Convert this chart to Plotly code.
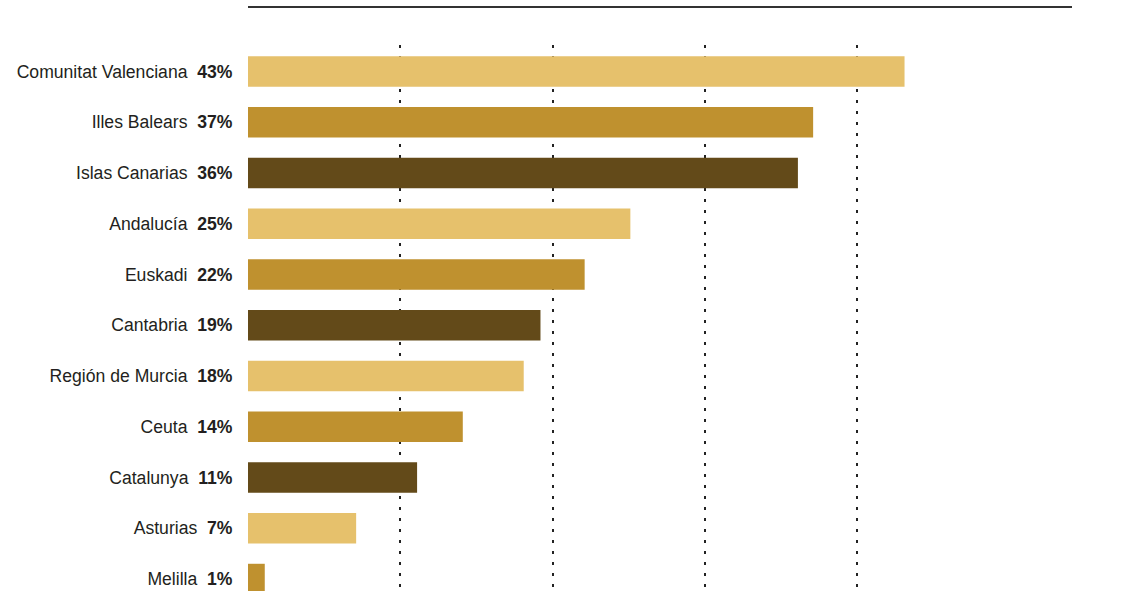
import plotly.graph_objects as go

regions = ["Comunitat Valenciana", "Illes Balears", "Islas Canarias", "Andalucía",
           "Euskadi", "Cantabria", "Región de Murcia", "Ceuta", "Catalunya",
           "Asturias", "Melilla"]
values = [43.1, 37.1, 36.1, 25.1, 22.1, 19.2, 18.1, 14.1, 11.1, 7.1, 1.1]
pct_labels = ["43%", "37%", "36%", "25%", "22%", "19%", "18%", "14%", "11%", "7%", "1%"]
palette = ["#E6C16C", "#BF912F", "#634A19"]
grid_vals = [10, 20, 30, 40]

W, H = 1128, 591
m_l, m_r, m_t, m_b = 248, 56, 45, 0
plot_h = H - m_t - m_b

colors = [palette[i % 3] for i in range(len(regions))]
ticktext = [f"{r} \u00a0<b>{p}</b>" for r, p in zip(regions, pct_labels)]

fig = go.Figure(go.Bar(
    x=values, y=list(range(len(regions))), orientation="h",
    marker=dict(color=colors, line=dict(width=0)),
    width=0.6, hoverinfo="skip",
))

# y mapping: centre of first bar at pixel 71.5, 50.75 px spacing
px_per_unit = 50.75
top = -(71.5 - m_t) / px_per_unit
bottom = top + plot_h / px_per_unit

fig.update_layout(
    width=W, height=H,
    margin=dict(l=m_l, r=m_r, t=m_t, b=m_b, pad=0),
    paper_bgcolor="white", plot_bgcolor="white",
    showlegend=False,
    font=dict(family="Liberation Sans, Arial, sans-serif", size=17.6, color="#231F20"),
    xaxis=dict(range=[0, (W - m_l - m_r) / 15.233], tickvals=grid_vals,
               showticklabels=False, showgrid=True, gridcolor="#222222",
               gridwidth=1.5, griddash="3px,8px", zeroline=False,
               showline=False, ticks=""),
    yaxis=dict(range=[bottom, top], tickvals=list(range(len(regions))),
               ticktext=ticktext, showgrid=False, zeroline=False,
               showline=False, ticks="outside", ticklen=11,
               tickcolor="rgba(0,0,0,0)"),
    shapes=[dict(type="line", xref="paper", yref="paper", x0=0, x1=1,
                 y0=1 + 38 / plot_h, y1=1 + 38 / plot_h,
                 line=dict(color="#333333", width=2))],
)

fig.write_html("out.html", config={"displayModeBar": False},
               post_script="document.body.style.margin='0';document.body.style.overflow='hidden';")
